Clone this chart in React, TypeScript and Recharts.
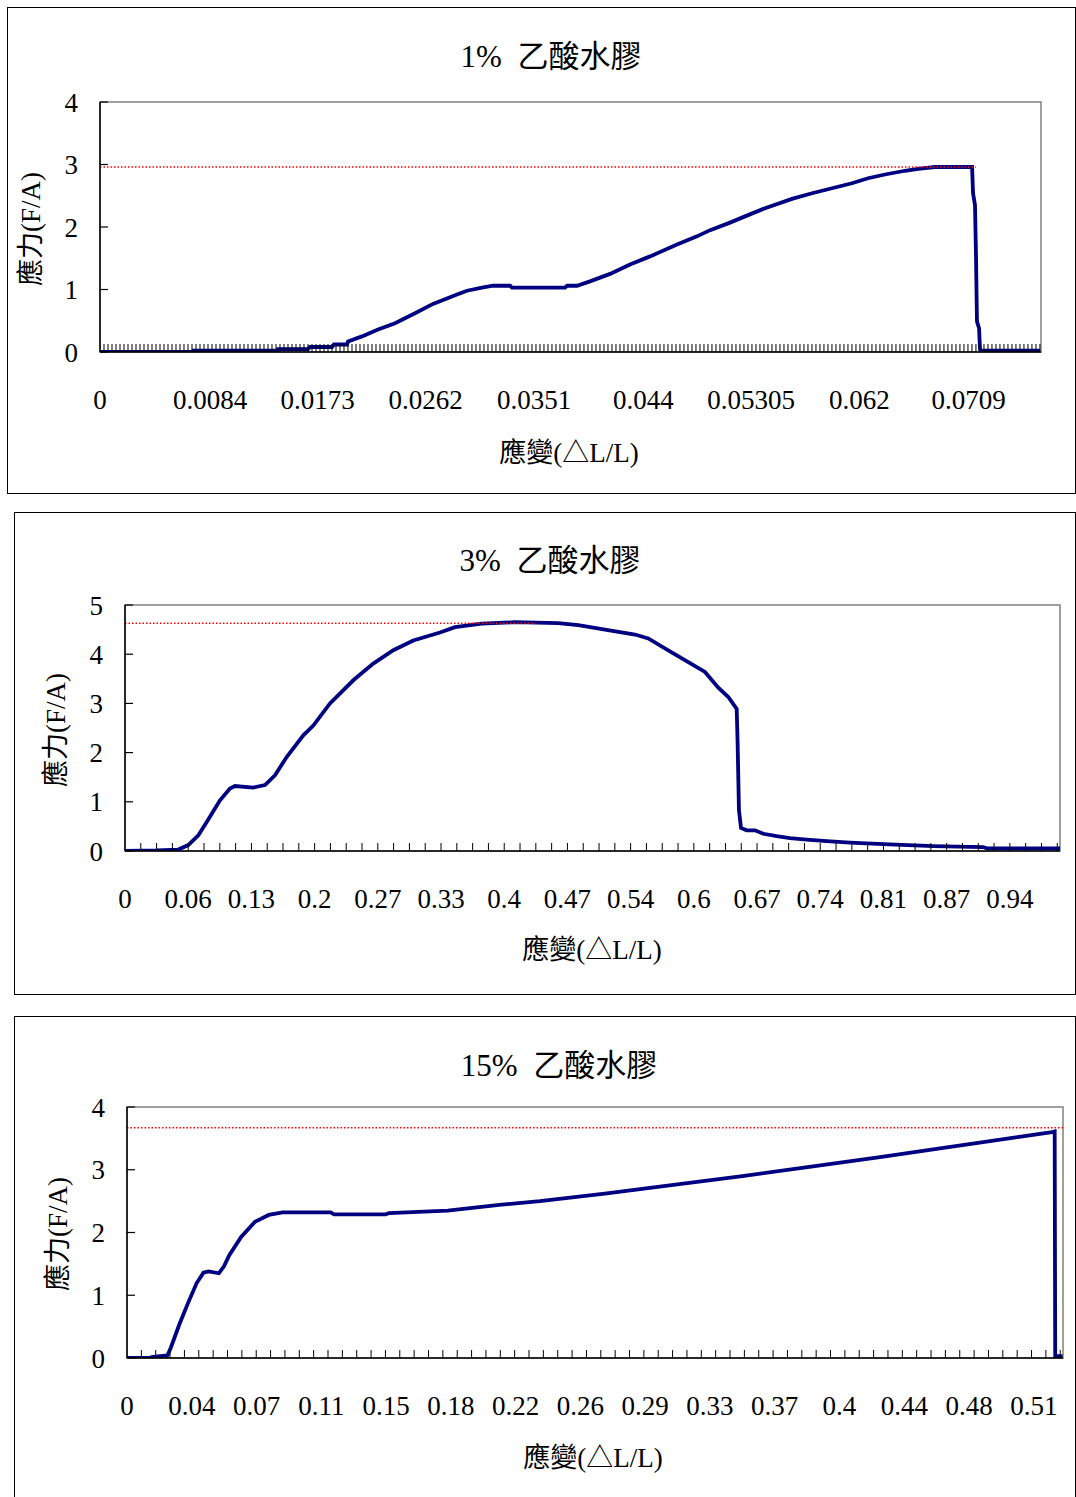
import React from 'react';
import { LineChart, Line, XAxis, YAxis, ReferenceLine, ReferenceArea } from 'recharts';

const FONT = "'Liberation Serif', 'Noto Sans CJK TC', serif";
const NAVY = '#000080';
const PAGE_W = 1076;

// 1% 乙酸水膠
const STRAIN_1 = [0, 0.00751, 0.0076, 0.01446, 0.01454, 0.01699, 0.01715, 0.01895, 0.01911, 0.02018, 0.02026, 0.0214, 0.02271, 0.0241, 0.02573, 0.0272, 0.02916, 0.02998, 0.0312, 0.0321, 0.03349, 0.03365, 0.03798, 0.03815, 0.03896, 0.04002, 0.04166, 0.04329, 0.04493, 0.04713, 0.04876, 0.04983, 0.05146, 0.05268, 0.05432, 0.05652, 0.05816, 0.05979, 0.06142, 0.06273, 0.06412, 0.06575, 0.06682, 0.0682, 0.07123, 0.07131, 0.07147, 0.07155, 0.07163, 0.0718, 0.07188, 0.072, 0.07678];
const STRESS_1 = [0, 0, 0.02, 0.02, 0.045, 0.045, 0.08, 0.08, 0.12, 0.12, 0.17, 0.25, 0.36, 0.46, 0.62, 0.77, 0.92, 0.98, 1.03, 1.06, 1.06, 1.03, 1.03, 1.06, 1.06, 1.13, 1.25, 1.4, 1.53, 1.72, 1.85, 1.95, 2.07, 2.17, 2.3, 2.45, 2.54, 2.62, 2.7, 2.78, 2.84, 2.9, 2.93, 2.96, 2.96, 2.54, 2.35, 1.55, 0.49, 0.38, 0.04, 0.02, 0.02];
const XTICK_POS_1 = [0, 0.00899, 0.01777, 0.0266, 0.03545, 0.04439, 0.05319, 0.06202, 0.07094];
const XTICK_LABEL_1 = ['0', '0.0084', '0.0173', '0.0262', '0.0351', '0.044', '0.05305', '0.062', '0.0709'];
const Y_TICKS_1 = [0, 1, 2, 3, 4];

// 3% 乙酸水膠
const STRAIN_2 = [0, 0.0337, 0.0566, 0.0672, 0.0779, 0.0868, 0.1009, 0.1115, 0.1168, 0.1363, 0.1487, 0.1593, 0.1717, 0.1894, 0.2, 0.2177, 0.2425, 0.2637, 0.285, 0.3062, 0.3346, 0.3505, 0.3789, 0.4142, 0.4602, 0.4815, 0.5098, 0.5417, 0.5558, 0.577, 0.5983, 0.616, 0.6302, 0.6408, 0.6497, 0.6507, 0.6521, 0.6543, 0.6603, 0.6691, 0.678, 0.6922, 0.7063, 0.724, 0.7453, 0.77, 0.8054, 0.8585, 0.9116, 0.9152, 0.9931];
const STRESS_2 = [0, 0.01, 0.03, 0.12, 0.32, 0.59, 1.03, 1.27, 1.32, 1.29, 1.34, 1.54, 1.91, 2.35, 2.55, 3.0, 3.47, 3.81, 4.08, 4.28, 4.44, 4.55, 4.62, 4.65, 4.63, 4.59, 4.5, 4.4, 4.32, 4.08, 3.84, 3.64, 3.32, 3.13, 2.89, 2.18, 0.83, 0.47, 0.42, 0.42, 0.35, 0.3, 0.26, 0.23, 0.2, 0.17, 0.14, 0.1, 0.08, 0.055, 0.055];
const XTICK_POS_2 = [0, 0.0671, 0.1343, 0.2014, 0.2685, 0.3357, 0.4028, 0.4699, 0.537, 0.6042, 0.6713, 0.7384, 0.8056, 0.8727, 0.9398];
const XTICK_LABEL_2 = ['0', '0.06', '0.13', '0.2', '0.27', '0.33', '0.4', '0.47', '0.54', '0.6', '0.67', '0.74', '0.81', '0.87', '0.94'];
const Y_TICKS_2 = [0, 1, 2, 3, 4, 5];

// 15% 乙酸水膠
const STRAIN_3 = [0, 0.0135, 0.014, 0.0228, 0.0247, 0.0295, 0.0344, 0.0393, 0.0432, 0.0461, 0.0519, 0.0548, 0.0578, 0.0645, 0.0723, 0.0801, 0.0879, 0.1151, 0.117, 0.1462, 0.1481, 0.1812, 0.2104, 0.2333, 0.27, 0.3088, 0.3477, 0.3866, 0.4255, 0.4643, 0.5032, 0.5227, 0.5242, 0.5245, 0.5286];
const STRESS_3 = [0, 0, 0.015, 0.04, 0.16, 0.53, 0.87, 1.19, 1.36, 1.38, 1.35, 1.46, 1.64, 1.93, 2.17, 2.28, 2.32, 2.32, 2.29, 2.29, 2.31, 2.35, 2.44, 2.5, 2.62, 2.76, 2.9, 3.05, 3.2, 3.36, 3.52, 3.6, 3.61, 0.03, 0.03];
const XTICK_POS_3 = [0, 0.0366, 0.0732, 0.1098, 0.1464, 0.183, 0.2196, 0.2562, 0.2928, 0.3294, 0.366, 0.4026, 0.4392, 0.4758, 0.5124];
const XTICK_LABEL_3 = ['0', '0.04', '0.07', '0.11', '0.15', '0.18', '0.22', '0.26', '0.29', '0.33', '0.37', '0.4', '0.44', '0.48', '0.51'];
const Y_TICKS_3 = [0, 1, 2, 3, 4];

const minorTicks = (step: number, max: number) => {
  const out: number[] = [];
  for (let v = step; v <= max + 1e-9; v += step) out.push(+v.toFixed(6));
  return out;
};

type Box = { left: number; top: number; right: number; height: number };
type Plot = { left: number; top: number; right: number; bottom: number };
type Pt = { x: number; y: number };

interface PanelProps {
  title: string;
  strain: number[];
  stress: number[];
  xMax: number;
  yMax: number;
  yTicks: number[];
  tickPos: number[];
  tickLabels: string[];
  minorStep: number;
  peak: number;
  peakEnd: number;
  box: Box;
  plot: Plot;
  titleAt: Pt;
  xTitleAt: Pt;
  yTitleAt: Pt;
}

const centered = (p: Pt, size: number, rotate = false): React.CSSProperties => ({
  position: 'absolute',
  left: p.x,
  top: p.y,
  transform: `translate(-50%, -50%)${rotate ? ' rotate(-90deg)' : ''}`,
  fontFamily: FONT,
  fontSize: size,
  lineHeight: 1,
  whiteSpace: 'pre',
  color: '#000',
});

const StressPanel: React.FC<PanelProps> = (p) => {
  const data = p.strain.map((x, i) => ({ x, y: p.stress[i] }));
  const minor = minorTicks(p.minorStep, p.xMax);
  const minorSet = new Set(minor);
  const allX = Array.from(new Set([...p.tickPos, ...minor])).sort((a, b) => a - b);
  const yW = 60;
  const xH = 60;
  const margin = {
    top: p.plot.top - p.box.top,
    right: PAGE_W - p.plot.right,
    left: p.plot.left - yW,
    bottom: p.box.top + p.box.height - p.plot.bottom - xH,
  };
  const axisY = p.plot.bottom - p.box.top;
  const axisX = p.plot.left;

  const xTick = (t: any) => {
    const v = t.payload.value;
    const i = p.tickPos.indexOf(v);
    return (
      <g>
        {minorSet.has(v) && <line x1={t.x} x2={t.x} y1={axisY} y2={axisY - 8} stroke="#000" strokeWidth={1} />}
        {i >= 0 && (
          <text x={t.x} y={t.y} dy="0.71em" textAnchor="middle" fontFamily={FONT} fontSize={27} fill="#000">
            {p.tickLabels[i]}
          </text>
        )}
      </g>
    );
  };

  const yTick = (t: any) => (
    <g>
      <line x1={axisX} x2={axisX + 8} y1={t.y} y2={t.y} stroke="#000" strokeWidth={1.2} />
      <text x={t.x} y={t.y} dy="0.355em" textAnchor="end" fontFamily={FONT} fontSize={27} fill="#000">
        {t.payload.value}
      </text>
    </g>
  );

  return (
    <>
      <div
        style={{
          position: 'absolute',
          left: p.box.left,
          top: p.box.top,
          width: p.box.right - p.box.left,
          height: p.box.height,
          border: '1px solid #000',
          boxSizing: 'border-box',
        }}
      />
      <div style={{ position: 'absolute', left: 0, top: p.box.top }}>
        <LineChart width={PAGE_W} height={p.box.height} data={data} margin={margin}>
          <ReferenceArea x1={0} x2={p.xMax} y1={0} y2={p.yMax} fill="none" stroke="#808080" strokeWidth={1.5} />
          <XAxis
            dataKey="x"
            type="number"
            domain={[0, p.xMax]}
            allowDataOverflow
            ticks={allX}
            interval={0}
            tickLine={false}
            axisLine={{ stroke: '#000', strokeWidth: 1.5 }}
            tickSize={30}
            tickMargin={8}
            height={xH}
            tick={xTick}
          />
          <YAxis
            type="number"
            domain={[0, p.yMax]}
            allowDataOverflow
            ticks={p.yTicks}
            interval={0}
            width={yW}
            tickLine={false}
            axisLine={{ stroke: '#000', strokeWidth: 1.5 }}
            tickSize={14}
            tickMargin={8}
            tick={yTick}
          />
          <Line
            dataKey="y"
            type="linear"
            stroke={NAVY}
            strokeWidth={3.8}
            dot={false}
            isAnimationActive={false}
          />
          <ReferenceLine
            segment={[
              { x: 0, y: p.peak },
              { x: p.peakEnd, y: p.peak },
            ]}
            stroke="#ff0000"
            strokeWidth={1.5}
            strokeDasharray="1.5 2"
          />
        </LineChart>
      </div>
      <div style={centered(p.titleAt, 31)}>{p.title}</div>
      <div style={centered(p.xTitleAt, 27)}>應變(△L/L)</div>
      <div style={centered(p.yTitleAt, 27, true)}>應力(F/A)</div>
    </>
  );
};

export default function App() {
  return (
    <div style={{ position: 'absolute', left: 0, top: 0, width: PAGE_W, height: 1497, overflow: 'hidden' }}>
      <StressPanel
        title="1%  乙酸水膠"
        strain={STRAIN_1}
        stress={STRESS_1}
        xMax={0.07686}
        yMax={4}
        yTicks={Y_TICKS_1}
        tickPos={XTICK_POS_1}
        tickLabels={XTICK_LABEL_1}
        minorStep={0.0003267}
        peak={2.96}
        peakEnd={0.07153}
        box={{ left: 7, top: 7, right: 1076, height: 487 }}
        plot={{ left: 100, top: 102, right: 1041, bottom: 352 }}
        titleAt={{ x: 551, y: 56 }}
        xTitleAt={{ x: 569, y: 453 }}
        yTitleAt={{ x: 31, y: 229 }}
      />
      <StressPanel
        title="3%  乙酸水膠"
        strain={STRAIN_2}
        stress={STRESS_2}
        xMax={0.9931}
        yMax={5}
        yTicks={Y_TICKS_2}
        tickPos={XTICK_POS_2}
        tickLabels={XTICK_LABEL_2}
        minorStep={0.016783}
        peak={4.63}
        peakEnd={0.4355}
        box={{ left: 14, top: 512, right: 1076, height: 483 }}
        plot={{ left: 125, top: 605, right: 1060, bottom: 851 }}
        titleAt={{ x: 550, y: 560 }}
        xTitleAt={{ x: 592, y: 950 }}
        yTitleAt={{ x: 56, y: 730 }}
      />
      <StressPanel
        title="15%  乙酸水膠"
        strain={STRAIN_3}
        stress={STRESS_3}
        xMax={0.5289}
        yMax={4}
        yTicks={Y_TICKS_3}
        tickPos={XTICK_POS_3}
        tickLabels={XTICK_LABEL_3}
        minorStep={0.008113}
        peak={3.67}
        peakEnd={0.5289}
        box={{ left: 14, top: 1016, right: 1076, height: 492 }}
        plot={{ left: 127, top: 1107, right: 1063, bottom: 1358 }}
        titleAt={{ x: 559, y: 1065 }}
        xTitleAt={{ x: 593, y: 1458 }}
        yTitleAt={{ x: 58, y: 1234 }}
      />
    </div>
  );
}
